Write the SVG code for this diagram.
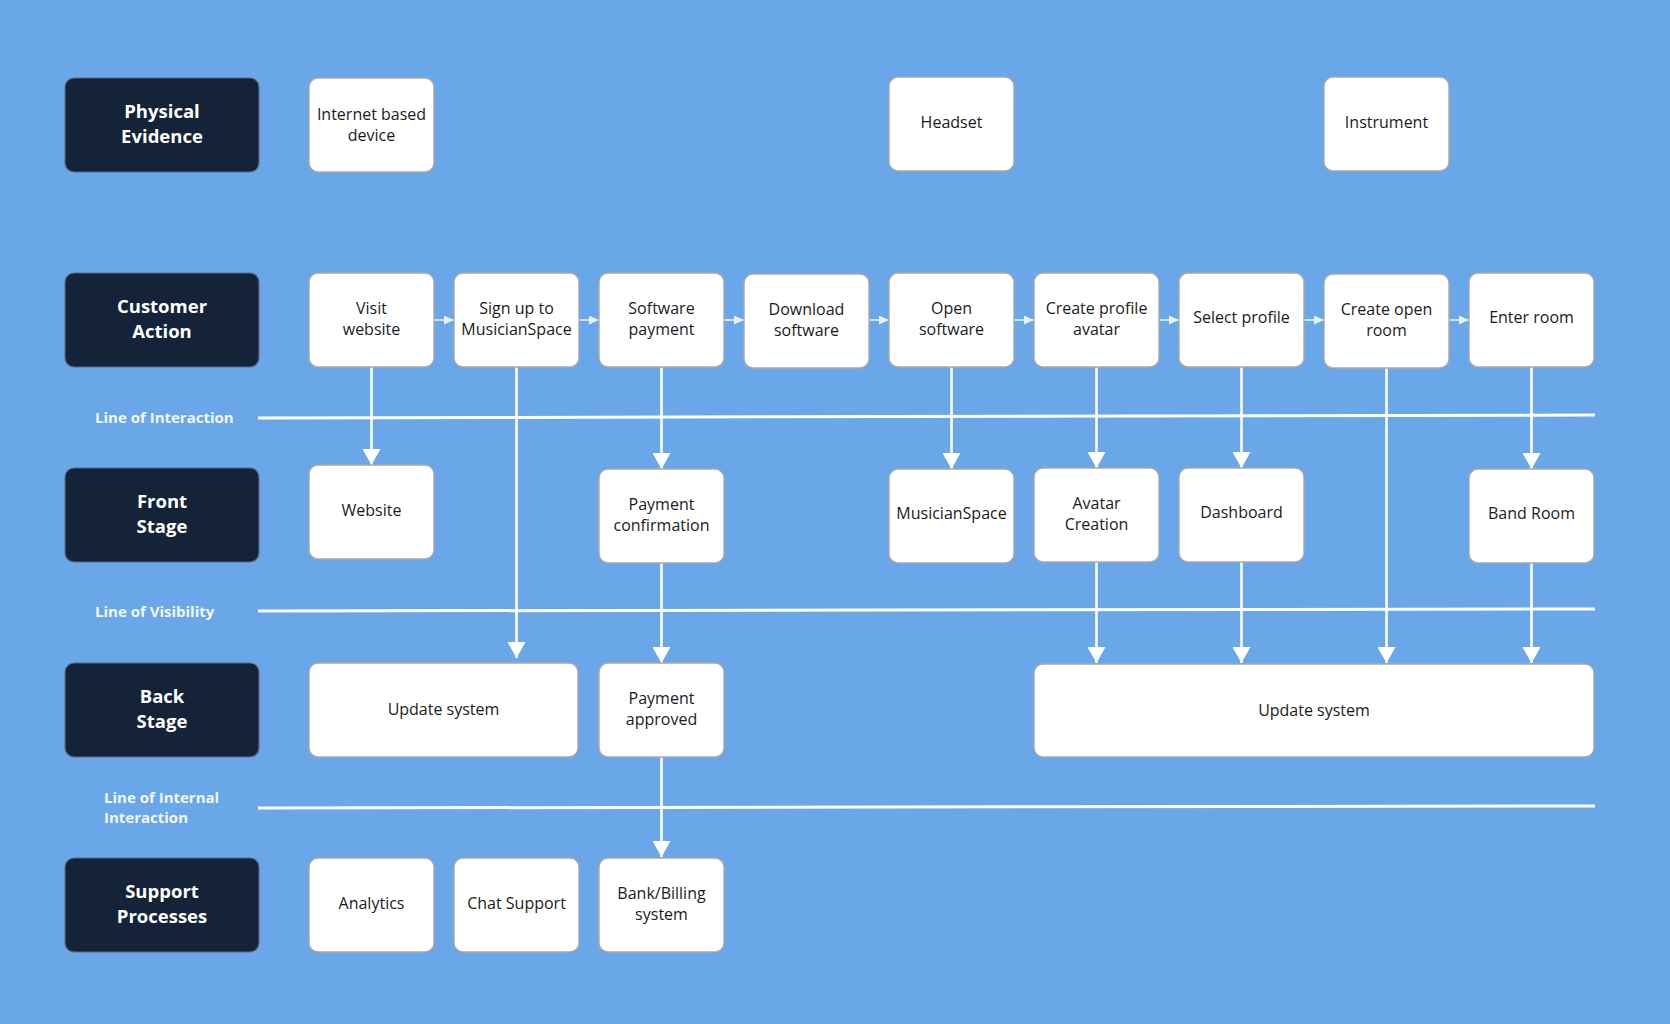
<svg xmlns="http://www.w3.org/2000/svg" width="1670" height="1024" viewBox="0 0 1670 1024">
<defs>
<style>
.lane rect{fill:#142338;stroke:#5b6b80;stroke-width:1.2}
.lane text{fill:#ffffff;font-family:"Open Sans","Liberation Sans",sans-serif;font-weight:700;font-size:18.5px;text-anchor:middle}
.node rect{fill:#ffffff;stroke:#a9a9a9;stroke-width:1.4}
.node text{fill:#1b1b1b;font-family:"Open Sans","Liberation Sans",sans-serif;font-size:16px;text-anchor:middle}
.lbl{fill:#f3f7fc;font-family:"Open Sans","Liberation Sans",sans-serif;font-weight:700;font-size:15px}
.div{stroke:#ffffff;stroke-width:3;fill:none}
.v{stroke:#ffffff;stroke-width:2.6;fill:none;marker-end:url(#big)}
.h{stroke:#e8f0fb;stroke-width:1.6;fill:none;marker-end:url(#small)}
</style>
<marker id="big" viewBox="0 0 16 18" markerWidth="16" markerHeight="18" refX="16" refY="9" orient="auto" markerUnits="userSpaceOnUse"><path d="M0,0 L16,9 L0,18 z" fill="#ffffff"/></marker>
<marker id="small" viewBox="0 0 10 9" markerWidth="10" markerHeight="9" refX="10" refY="4.5" orient="auto" markerUnits="userSpaceOnUse"><path d="M0,0 L10,4.5 L0,9 z" fill="#e8f0fb"/></marker>
</defs>
<rect x="0" y="0" width="1670" height="1024" fill="#69a7e8"/>

<g id="dividers">
<line class="div" x1="258" y1="418" x2="1595" y2="415"/>
<line class="div" x1="258" y1="611" x2="1595" y2="609"/>
<line class="div" x1="258" y1="808" x2="1595" y2="806"/>
<text class="lbl" x="95" y="423">Line of Interaction</text>
<text class="lbl" x="95" y="617">Line of Visibility</text>
<text class="lbl" x="104" y="803">Line of Internal</text>
<text class="lbl" x="104" y="823">Interaction</text>
</g>

<g id="connectors">
<line class="h" x1="434" y1="320" x2="454" y2="320"/>
<line class="h" x1="579" y1="320" x2="599" y2="320"/>
<line class="h" x1="724" y1="320" x2="744" y2="320"/>
<line class="h" x1="869" y1="320" x2="889" y2="320"/>
<line class="h" x1="1014" y1="320" x2="1034" y2="320"/>
<line class="h" x1="1159" y1="320" x2="1179" y2="320"/>
<line class="h" x1="1304" y1="320" x2="1324" y2="320"/>
<line class="h" x1="1449" y1="320" x2="1469" y2="320"/>
<line class="v" x1="371.5" y1="367" x2="371.5" y2="465"/>
<line class="v" x1="516.5" y1="367" x2="516.5" y2="658"/>
<line class="v" x1="661.5" y1="367" x2="661.5" y2="469"/>
<line class="v" x1="661.5" y1="563" x2="661.5" y2="663"/>
<line class="v" x1="661.5" y1="757" x2="661.5" y2="857"/>
<line class="v" x1="951.5" y1="367" x2="951.5" y2="469"/>
<line class="v" x1="1096.5" y1="367" x2="1096.5" y2="468"/>
<line class="v" x1="1096.5" y1="562" x2="1096.5" y2="663"/>
<line class="v" x1="1241.5" y1="367" x2="1241.5" y2="468"/>
<line class="v" x1="1241.5" y1="562" x2="1241.5" y2="663"/>
<line class="v" x1="1386.5" y1="368" x2="1386.5" y2="663"/>
<line class="v" x1="1531.5" y1="367" x2="1531.5" y2="469"/>
<line class="v" x1="1531.5" y1="563" x2="1531.5" y2="663"/>
</g>

<g id="lane-physical" class="lane"><rect x="65" y="78" width="194" height="94" rx="9"/><text x="162" y="118">Physical</text><text x="162" y="143">Evidence</text></g>
<g id="lane-customer" class="lane"><rect x="65" y="273" width="194" height="94" rx="9"/><text x="162" y="313">Customer</text><text x="162" y="338">Action</text></g>
<g id="lane-front" class="lane"><rect x="65" y="468" width="194" height="94" rx="9"/><text x="162" y="508">Front</text><text x="162" y="533">Stage</text></g>
<g id="lane-back" class="lane"><rect x="65" y="663" width="194" height="94" rx="9"/><text x="162" y="703">Back</text><text x="162" y="728">Stage</text></g>
<g id="lane-support" class="lane"><rect x="65" y="858" width="194" height="94" rx="9"/><text x="162" y="898">Support</text><text x="162" y="923">Processes</text></g>

<g id="pe-device" class="node"><rect x="309" y="78" width="125" height="94" rx="9"/><text x="371.5" y="120">Internet based</text><text x="371.5" y="141">device</text></g>
<g id="pe-headset" class="node"><rect x="889" y="77" width="125" height="94" rx="9"/><text x="951.5" y="128">Headset</text></g>
<g id="pe-instrument" class="node"><rect x="1324" y="77" width="125" height="94" rx="9"/><text x="1386.5" y="128">Instrument</text></g>

<g id="ca-visit" class="node"><rect x="309" y="273" width="125" height="94" rx="9"/><text x="371.5" y="313.5">Visit</text><text x="371.5" y="334.5">website</text></g>
<g id="ca-signup" class="node"><rect x="454" y="273" width="125" height="94" rx="9"/><text x="516.5" y="313.5">Sign up to</text><text x="516.5" y="334.5">MusicianSpace</text></g>
<g id="ca-payment" class="node"><rect x="599" y="273" width="125" height="94" rx="9"/><text x="661.5" y="313.5">Software</text><text x="661.5" y="334.5">payment</text></g>
<g id="ca-download" class="node"><rect x="744" y="274" width="125" height="94" rx="9"/><text x="806.5" y="314.5">Download</text><text x="806.5" y="335.5">software</text></g>
<g id="ca-open" class="node"><rect x="889" y="273" width="125" height="94" rx="9"/><text x="951.5" y="313.5">Open</text><text x="951.5" y="334.5">software</text></g>
<g id="ca-profile" class="node"><rect x="1034" y="273" width="125" height="94" rx="9"/><text x="1096.5" y="313.5">Create profile</text><text x="1096.5" y="334.5">avatar</text></g>
<g id="ca-select" class="node"><rect x="1179" y="273" width="125" height="94" rx="9"/><text x="1241.5" y="322.5">Select profile</text></g>
<g id="ca-room" class="node"><rect x="1324" y="274" width="125" height="94" rx="9"/><text x="1386.5" y="314.5">Create open</text><text x="1386.5" y="335.5">room</text></g>
<g id="ca-enter" class="node"><rect x="1469" y="273" width="125" height="94" rx="9"/><text x="1531.5" y="322.5">Enter room</text></g>

<g id="fs-website" class="node"><rect x="309" y="465" width="125" height="94" rx="9"/><text x="371.5" y="516">Website</text></g>
<g id="fs-confirm" class="node"><rect x="599" y="469" width="125" height="94" rx="9"/><text x="661.5" y="509.5">Payment</text><text x="661.5" y="530.5">confirmation</text></g>
<g id="fs-musicianspace" class="node"><rect x="889" y="469" width="125" height="94" rx="9"/><text x="951.5" y="518.5">MusicianSpace</text></g>
<g id="fs-avatar" class="node"><rect x="1034" y="468" width="125" height="94" rx="9"/><text x="1096.5" y="508.5">Avatar</text><text x="1096.5" y="529.5">Creation</text></g>
<g id="fs-dashboard" class="node"><rect x="1179" y="468" width="125" height="94" rx="9"/><text x="1241.5" y="517.5">Dashboard</text></g>
<g id="fs-band" class="node"><rect x="1469" y="469" width="125" height="94" rx="9"/><text x="1531.5" y="518.5">Band Room</text></g>

<g id="bs-update1" class="node"><rect x="309" y="663" width="269" height="94" rx="9"/><text x="443.5" y="714.5">Update system</text></g>
<g id="bs-approved" class="node"><rect x="599" y="663" width="125" height="94" rx="9"/><text x="661.5" y="703.5">Payment</text><text x="661.5" y="724.5">approved</text></g>
<g id="bs-update2" class="node"><rect x="1034" y="664" width="560" height="93" rx="9"/><text x="1314" y="715.5">Update system</text></g>

<g id="sp-analytics" class="node"><rect x="309" y="858" width="125" height="94" rx="9"/><text x="371.5" y="908.5">Analytics</text></g>
<g id="sp-chat" class="node"><rect x="454" y="858" width="125" height="94" rx="9"/><text x="516.5" y="908.5">Chat Support</text></g>
<g id="sp-bank" class="node"><rect x="599" y="858" width="125" height="94" rx="9"/><text x="661.5" y="898.5">Bank/Billing</text><text x="661.5" y="919.5">system</text></g>
</svg>
